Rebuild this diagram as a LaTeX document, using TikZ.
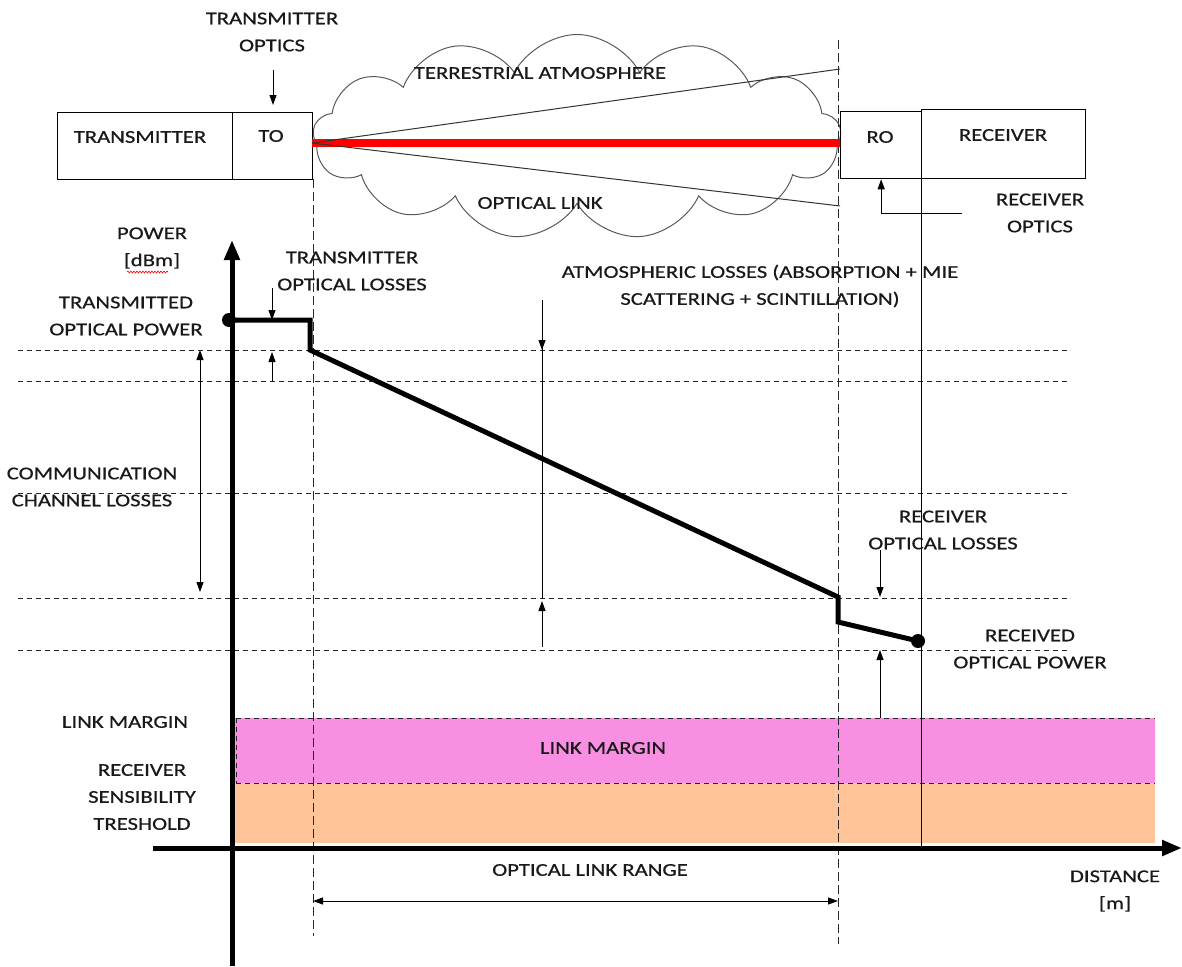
\documentclass[tikz,border=0pt]{standalone}
\usepackage{fontspec}
\setmainfont{Carlito}[FakeStretch=1.26,FakeBold=0.6]
\usetikzlibrary{shapes.symbols,arrows.meta,decorations.pathmorphing}

\definecolor{linkpink}{RGB}{249,143,227}
\definecolor{sensorange}{RGB}{255,196,151}
\definecolor{beamred}{RGB}{255,0,0}
\definecolor{txt}{RGB}{25,25,25}

\begin{document}
\begin{tikzpicture}[x=1pt,y=-1pt,
 lbl/.style={font=\fontsize{18}{27}\selectfont, text=txt, inner sep=0pt, align=center},
 box/.style={draw, line width=1.3pt, inner sep=0pt},
 hdash/.style={line width=1pt, dash pattern=on 5pt off 4pt, black!85},
 vdash/.style={line width=1pt, dash pattern=on 9pt off 4pt, black!85},
 tarrow/.style={line width=1pt, -{Triangle[length=10pt,width=7pt]}},
 tarrows/.style={line width=1pt, {Triangle[length=10pt,width=7pt]}-{Triangle[length=10pt,width=7pt]}},
 axis/.style={line width=5pt, -{Triangle[length=20pt,width=15pt]}},
 dot/.style={circle, fill=black, minimum size=14pt, inner sep=0pt},
 ]
\useasboundingbox (0,0) rectangle (1182,966);

% bands
\fill[sensorange] (235,783) rectangle (1155,843);
\fill[linkpink] (235,718) rectangle (1155,783);
\draw[hdash] (236,718) -- (1155,718);
\draw[hdash] (236,783) -- (1155,783);
\draw[hdash] (236,718) -- (236,783);
\node[lbl] (lmband) at (603,748) {LINK MARGIN};

% horizontal dashed levels
\foreach \yy in {350,381,493,598,650}{\draw[hdash] (18,\yy) -- (1068,\yy);}

% vertical dashed lines
\draw[vdash] (313,179) -- (313,936);
\draw[vdash] (838,40) -- (838,944);

% cloud
\node[cloud, draw=black!65, line width=1pt, cloud puffs=13, cloud puff arc=125, aspect=2.6,
      minimum width=528pt, minimum height=205pt, inner sep=0pt] (cloud) at (577,137) {};
\node[lbl] (terr) at (540,73) {TERRESTRIAL ATMOSPHERE};
\node[lbl] (olink) at (540,203) {OPTICAL LINK};

% boxes
\node[box, minimum width=175pt, minimum height=67pt, anchor=north west] (tx) at (57,112) {};
\node[box, minimum width=80pt, minimum height=67pt, anchor=north west] (to) at (232,112) {};
\node[box, minimum width=81pt, minimum height=67pt, anchor=north west] (ro) at (840,111) {};
\node[box, minimum width=164pt, minimum height=69pt, anchor=north west] (rx) at (921,109) {};
\node[lbl] (txt1) at (140,137) {TRANSMITTER};
\node[lbl] (txt2) at (271,136) {TO};
\node[lbl] (txt3) at (880,137) {RO};
\node[lbl] (txt4) at (1003,135) {RECEIVER};

% beam
\coordinate (beamL) at (312,143);
\coordinate (beamR) at (840,143);
\coordinate (divU) at (840,69);
\coordinate (divD) at (840,206);
\draw[beamred, line width=8pt] (beamL) -- (beamR);
\draw[line width=1pt, black!80] (beamL) -- (divU);
\draw[line width=1pt, black!80] (beamL) -- (divD);

% transmitter optics label
\node[lbl] (tol) at (272,32) {TRANSMITTER\\OPTICS};
\coordinate (toa) at (273,70);
\draw[tarrow] (toa) -- (273,105);

% receiver optics label
\node[lbl] (rol) at (1040,213) {RECEIVER\\OPTICS};
\coordinate (roa) at (962,213);
\draw[tarrow] (roa) -| (ro.south);

% receiver solid line
\coordinate (rxbot) at (921,848);
\draw[line width=1pt] (rx.south west) -- (rxbot);

% power curve
\node[dot] (ptx) at (229,320) {};
\node[dot] (prx) at (918,641) {};
\draw[line width=5pt, line join=miter] (ptx.center) -- (310,320) -- (310,350) -- (838,597) -- (838,622) -- (prx.center);

% axes
\coordinate (yb) at (232,966);
\coordinate (yt) at (232,240);
\coordinate (xl) at (153,848);
\coordinate (xr) at (1182,848);
\draw[axis] (yb) -- (yt);
\draw[axis] (xl) -- (xr);

% axis labels
\node[lbl] (pw) at (152,248) {POWER\\{[dBm]}};
\draw[red, line width=0.6pt, decorate, decoration={snake, amplitude=1pt, segment length=3pt}] (127,272) -- (168,272);
\node[lbl] (dist) at (1115,891) {DISTANCE\\{[m]}};

% left labels
\node[lbl] (tpw) at (126,316) {TRANSMITTED\\OPTICAL POWER};
\node[lbl] (ccl) at (92,487) {COMMUNICATION\\CHANNEL LOSSES};
\node[lbl] (lml) at (125,722) {LINK MARGIN};
\node[lbl] (rst) at (142,797) {RECEIVER\\SENSIBILITY\\TRESHOLD};

% loss labels
\node[lbl] (tol2) at (352,271) {TRANSMITTER\\OPTICAL LOSSES};
\node[lbl] (atm) at (760,286) {ATMOSPHERIC LOSSES (ABSORPTION + MIE\\SCATTERING + SCINTILLATION)};
\node[lbl] (rol2) at (943,530) {RECEIVER\\OPTICAL LOSSES};
\node[lbl] (rop) at (1030,649) {RECEIVED\\OPTICAL POWER};
\node[lbl] (olr) at (590,870) {OPTICAL LINK RANGE};

% dimension arrows
\draw[tarrows] (200,350) -- (200,592);
\draw[tarrow] (272,288) -- (272,320);
\draw[tarrow] (272,381) -- (272,352);
\draw[line width=1pt] (542,300) -- (542,598);
\draw[tarrow] (542,300) -- (542,350);
\draw[tarrow] (542,647) -- (542,601);
\draw[tarrow] (880,550) -- (880,597);
\draw[tarrow] (880,718) -- (880,650);
\draw[tarrows] (313,901) -- (838,901);
\end{tikzpicture}
\end{document}
